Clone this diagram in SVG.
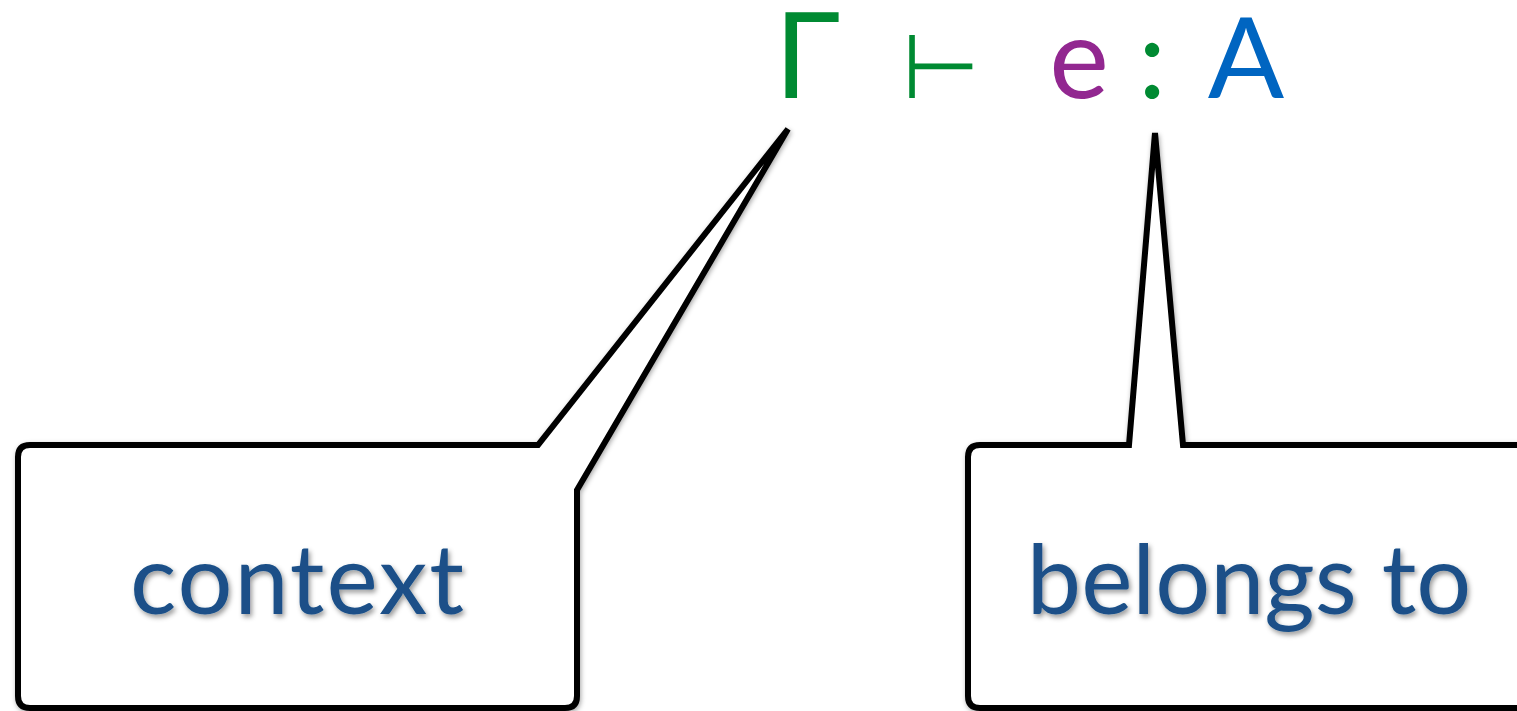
<svg xmlns="http://www.w3.org/2000/svg" width="1517" height="711" viewBox="0 0 1517 711">
  <defs>
    <filter id="boxShadow" x="-10%" y="-10%" width="120%" height="120%">
      <feDropShadow dx="1" dy="2" stdDeviation="2.5" flood-color="#000" flood-opacity="0.35"/>
    </filter>
    <filter id="textShadow" x="-10%" y="-20%" width="120%" height="140%">
      <feDropShadow dx="2" dy="3" stdDeviation="2.5" flood-color="#000" flood-opacity="0.4"/>
    </filter>
  </defs>
  <style>
    .callout { fill: #ffffff; stroke: #000000; stroke-width: 6; stroke-linejoin: miter; filter: url(#boxShadow); }
    .label { font-family: Lato, "Open Sans", "Liberation Sans", sans-serif; font-size: 97px; fill: #1a5088; text-anchor: middle; filter: url(#textShadow); }
    .sym { font-family: Lato, "DejaVu Sans", sans-serif; font-size: 113px; text-anchor: middle; }
    .green { fill: #008a32; }
  </style>
  <rect width="1517" height="711" fill="#ffffff"/>

  <g id="formula">
    <g id="gamma">
      <text class="sym green" x="806.5" y="98" style="font-family: 'DejaVu Sans', sans-serif; font-size: 117px;">Γ</text>
    </g>
    <g id="turnstile">
      <text class="sym green" x="941" y="98" style="font-family: 'DejaVu Sans', sans-serif; font-size: 90px;">⊢</text>
    </g>
    <g id="term">
      <text class="sym" x="1079" y="98" fill="#922790">e</text>
    </g>
    <g id="colon">
      <text class="sym green" x="1152" y="98">:</text>
    </g>
    <g id="type">
      <text class="sym" x="1246" y="98" fill="#0065c1">A</text>
    </g>
  </g>

  <g id="callout-context">
    <path class="callout" d="M 30 445 H 538 L 788 129 L 577 490 V 696 Q 577 708 565 708 H 30 Q 18 708 18 696 V 457 Q 18 445 30 445 Z"/>
    <text class="label" x="298" y="614" letter-spacing="2">context</text>
  </g>

  <g id="callout-belongs">
    <path class="callout" d="M 980 445 H 1129 L 1155 133 L 1183 445 H 1530 V 708 H 980 Q 968 708 968 696 V 457 Q 968 445 980 445 Z"/>
    <text class="label" x="1249" y="614">belongs to</text>
  </g>
</svg>
